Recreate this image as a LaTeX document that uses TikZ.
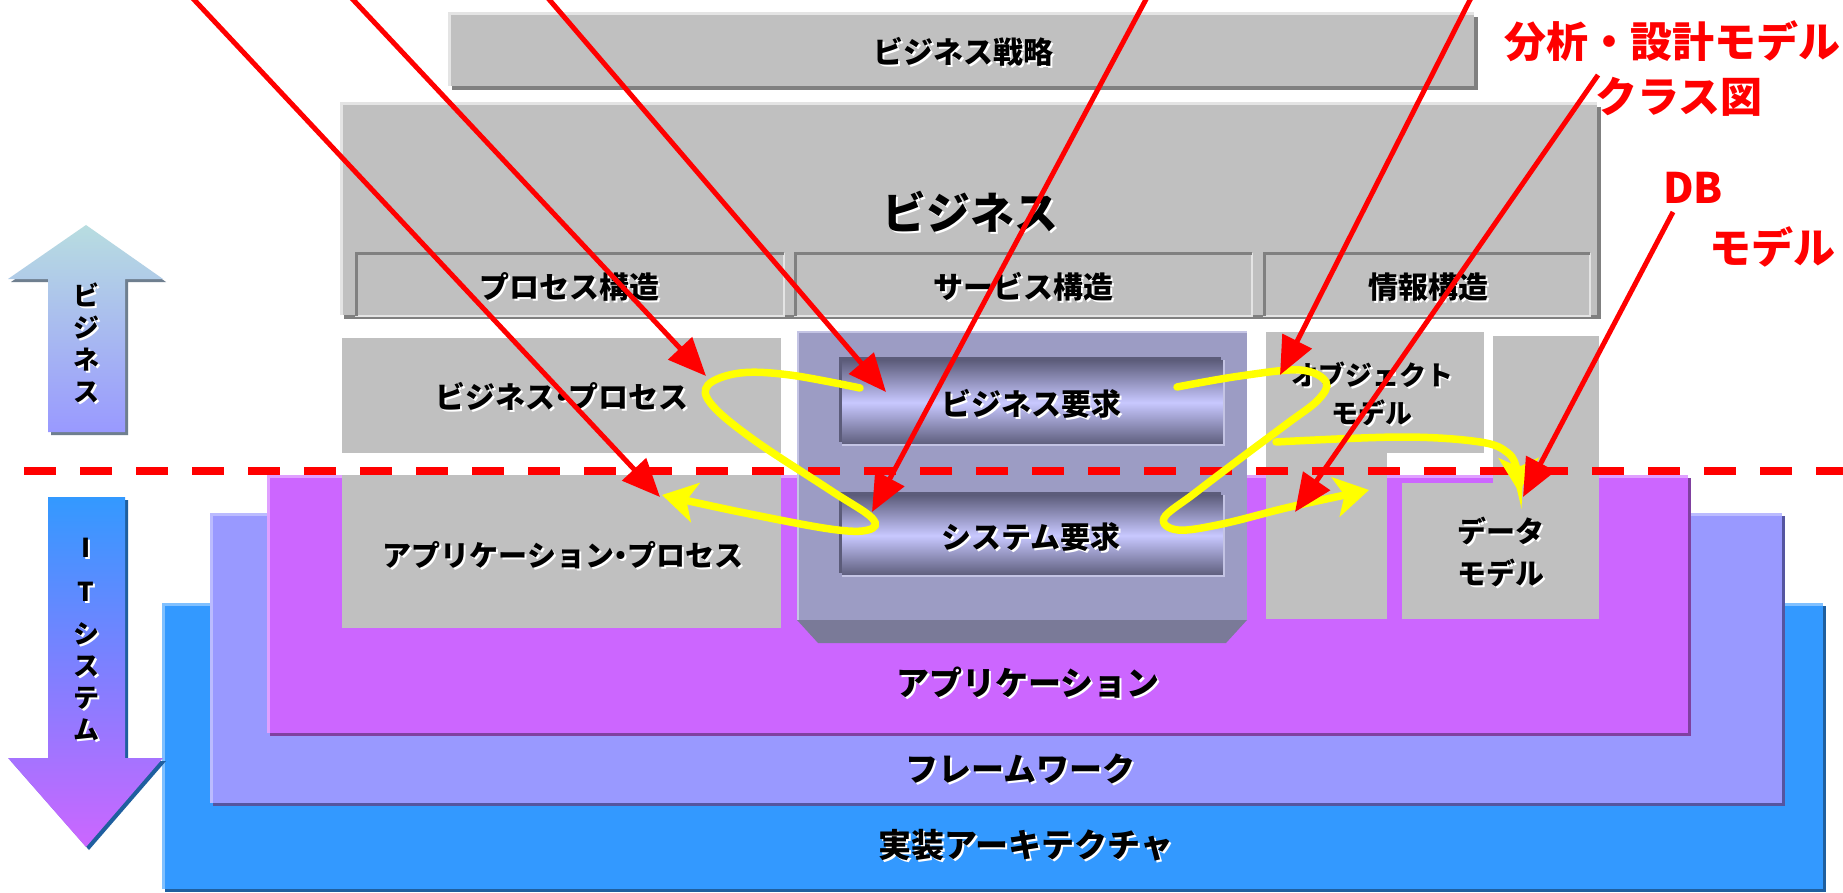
\documentclass[tikz,border=0pt]{standalone}
\usepackage{fontspec}
\setmainfont{Noto Sans CJK JP}
\usetikzlibrary{arrows.meta,shadows}
\definecolor{gbox}{HTML}{C0C0C0}
\definecolor{gdark}{HTML}{808080}
\definecolor{glight}{HTML}{E4E4E4}
\definecolor{impl}{HTML}{3399FF}
\definecolor{impllt}{HTML}{80C0FF}
\definecolor{implsh}{HTML}{1F5F9F}
\definecolor{frame}{HTML}{9999FF}
\definecolor{framelt}{HTML}{BBBBFF}
\definecolor{framesh}{HTML}{5555A0}
\definecolor{app}{HTML}{CC66FF}
\definecolor{applt}{HTML}{E0A0FF}
\definecolor{appsh}{HTML}{8040A0}
\definecolor{panel}{HTML}{9C9CC4}
\definecolor{panellt}{HTML}{C4C4E4}
\definecolor{paneldk}{HTML}{7A7A98}
\definecolor{cyldk}{HTML}{5C5C7A}
\definecolor{cyllt}{HTML}{C8C8FF}
\definecolor{arrred}{HTML}{FF0000}
\definecolor{arryel}{HTML}{FFFF00}
\definecolor{uptop}{HTML}{B8DDE0}
\definecolor{upbot}{HTML}{9999FF}
\definecolor{upsh}{HTML}{6F7F8F}
\newcommand\jfs[1]{\fontsize{#1}{#1}\selectfont}
\newcommand\sh[1]{\leavevmode\rlap{\kern2pt\raisebox{-2pt}{\color{white}#1}}#1}
\newcommand\nd{\kern-0.28em・\kern-0.28em}
\begin{document}
\begin{tikzpicture}[x=1pt,y=-1pt,
  lbl/.style={font=\bfseries\jfs{30}, inner sep=0pt, text=black},
  biglbl/.style={font=\bfseries\jfs{33}, inner sep=0pt, text=black},
  redlbl/.style={font=\bfseries\jfs{42}, inner sep=0pt, text=arrred},
  sidelbl/.style={font=\bfseries\jfs{26}, inner sep=0pt, align=center, text=black},
  shad/.style={drop shadow={shadow xshift=#1,shadow yshift=-#1,opacity=1,fill=gdark}},
  cyl/.style={top color=cyldk, bottom color=cyldk, middle color=cyllt},
  redarrow/.style={draw=arrred, line width=5pt, -{Triangle[length=38pt,width=32pt]}},
  yelarrow/.style={draw=arryel, line width=7.5pt, line cap=round, -{Stealth[length=34pt,width=40pt,inset=9pt]}}]
\useasboundingbox (0,0) rectangle (1843,893);
\fill[white] (0,0) rectangle (1843,893);

% implementation layer
\fill[impl, drop shadow={shadow xshift=3pt,shadow yshift=-3pt,opacity=1,fill=implsh}] (162,603) rectangle (1823,889);
\draw[impllt, line width=3pt] (163,889) |- (1823,604);
% framework layer
\fill[frame, drop shadow={shadow xshift=3pt,shadow yshift=-3pt,opacity=1,fill=framesh}] (210,513) rectangle (1782,803);
\draw[framelt, line width=3pt] (211,803) |- (1782,514);
% application layer
\fill[app, drop shadow={shadow xshift=3pt,shadow yshift=-3pt,opacity=1,fill=appsh}] (267,475) rectangle (1688,733);
\draw[applt, line width=3pt] (268,733) |- (1688,476);

% business strategy
\fill[gbox, shad=4pt] (448,13) rectangle (1474,86);
\draw[glight, line width=3pt] (449,86) |- (1474,14);
% business
\fill[gbox, shad=4pt] (340,103) rectangle (1597,315);
\draw[glight, line width=3pt] (341,315) |- (1597,104);
% sub boxes
\fill[gbox] (355,253) rectangle (784,316);
\draw[glight, line width=2pt] (355,316) -| (784,253);
\draw[gdark, line width=3pt] (356,316) |- (784,254);
\fill[gbox] (794,253) rectangle (1252,316);
\draw[glight, line width=2pt] (794,316) -| (1252,253);
\draw[gdark, line width=3pt] (795,316) |- (1252,254);
\fill[gbox] (1263,253) rectangle (1590,316);
\draw[glight, line width=2pt] (1263,316) -| (1590,253);
\draw[gdark, line width=3pt] (1264,316) |- (1590,254);

% gray boxes
\fill[gbox] (342,338) rectangle (781,453);
\fill[gbox] (342,475) rectangle (781,628);
\fill[gbox] (1266,332) rectangle (1484,453);
\fill[gbox] (1266,332) rectangle (1387,619);
\fill[gbox] (1493,336) rectangle (1599,619);
\fill[gbox] (1402,483) rectangle (1599,619);

% central panel
\fill[paneldk] (797,620) -- (1247,620) -- (1226,643) -- (818,643) -- cycle;
\fill[panel] (797,331) rectangle (1247,620);
\draw[panellt, line width=2pt] (798,620) |- (1247,332);
% cylinders
\fill[cyldk] (839,357) rectangle (1221,442);
\shade[cyl] (842,360) rectangle (1224,445);
\draw[panellt, line width=2pt] (842,445) -| (1224,360);
\fill[cyldk] (839,492) rectangle (1221,573);
\shade[cyl] (842,495) rectangle (1224,576);
\draw[panellt, line width=2pt] (842,576) -| (1224,495);

% texts
\node[lbl] (strat) at (963,53) {\sh{ビジネス戦略}};
\node[lbl, font=\bfseries\jfs{44}] (biz) at (970,213) {\sh{ビジネス}};
\node[lbl] (procs) at (569,288) {\sh{プロセス構造}};
\node[lbl] (servs) at (1023,288) {\sh{サービス構造}};
\node[lbl] (infos) at (1428,288) {\sh{情報構造}};
\node[lbl] (bproc) at (562,397) {\sh{ビジネス\nd プロセス}};
\node[lbl] (breq) at (1031,405) {\sh{ビジネス要求}};
\node[lbl] (sreq) at (1031,538) {\sh{システム要求}};
\node[lbl, font=\bfseries\jfs{29}] (aproc) at (563,556) {\sh{アプリケーション\nd プロセス}};
\node[lbl, font=\bfseries\jfs{27}, align=center] (objm) at (1372,395) {\sh{オブジェクト}\\[9pt]\sh{モデル}};
\node[lbl, font=\bfseries\jfs{29}, align=center] (datam) at (1501,553) {\sh{データ}\\[11pt]\sh{モデル}};
\node[biglbl] (appl) at (1028,684) {\sh{アプリケーション}};
\node[biglbl] (frm) at (1020,770) {\sh{フレームワーク}};
\node[biglbl] (impla) at (1026,846) {\sh{実装アーキテクチャ}};

% side arrows
\shade[top color=uptop, bottom color=upbot, drop shadow={shadow xshift=3pt,shadow yshift=-3pt,opacity=1,fill=upsh}]
  (86,225) -- (163,279) -- (125,279) -- (125,432) -- (48,432) -- (48,279) -- (8,279) -- cycle;
\node[sidelbl] (upl) at (86,344) {\sh{ビ}\\[6pt]\sh{ジ}\\[6pt]\sh{ネ}\\[6pt]\sh{ス}};
\shade[top color=impl, bottom color=app, drop shadow={shadow xshift=3pt,shadow yshift=-3pt,opacity=1,fill=implsh}]
  (48,497) -- (125,497) -- (125,758) -- (163,758) -- (86,847) -- (8,758) -- (48,758) -- cycle;
\node[sidelbl] (dnl) at (86,640) {\sh{I}\\[18pt]\sh{T}\\[16pt]\sh{シ}\\[6pt]\sh{ス}\\[6pt]\sh{テ}\\[6pt]\sh{ム}};

% dashed boundary
\coordinate (dashL) at (24,471);
\coordinate (dashR) at (1843,471);
\draw[arrred, line width=8pt, dash pattern=on 32pt off 24pt] (dashL) -- (dashR);

% yellow loops
\draw[yelarrow] plot[smooth, tension=0.6] coordinates {(860,388) (790,375) (740,373) (708,385) (712,405) (754,440) (830,490) (872,518) (868,530) (830,529) (740,512) (662,495)};
\draw[yelarrow] plot[smooth, tension=0.6] coordinates {(1177,387) (1240,376) (1300,370) (1326,382) (1318,400) (1288,423) (1245,455) (1195,493) (1164,518) (1178,530) (1222,524) (1290,507) (1369,490)};
\draw[yelarrow] plot[smooth, tension=0.6] coordinates {(1276,442) (1401,437) (1480,442) (1508,453) (1517,470) (1519,492)};

% red arrows
\coordinate (r1s) at (185,-10);   \coordinate (r1e) at (660,497);
\coordinate (r2s) at (344,-10);   \coordinate (r2e) at (706,376);
\coordinate (r3s) at (541,-10);   \coordinate (r3e) at (886,392);
\coordinate (r4s) at (1151,-10);  \coordinate (r4e) at (872,512);
\coordinate (r5s) at (1475,-10);  \coordinate (r5e) at (1280,375);
\coordinate (r6s) at (1598,75);   \coordinate (r6e) at (1295,512);
\coordinate (r7s) at (1673,212);  \coordinate (r7e) at (1523,497);
\draw[redarrow] (r1s) -- (r1e);
\draw[redarrow] (r2s) -- (r2e);
\draw[redarrow] (r3s) -- (r3e);
\draw[redarrow] (r4s) -- (r4e);
\draw[redarrow] (r5s) -- (r5e);
\draw[redarrow] (r6s) -- (r6e);
\draw[redarrow] (r7s) -- (r7e);

% red labels
\node[redlbl] (anl) at (1672,41) {分析・設計モデル};
\node[redlbl] (cls) at (1679,97) {クラス図};
\node[redlbl] (db) at (1693,188) {DB};
\node[redlbl] (dbm) at (1772,247) {モデル};
\end{tikzpicture}
\end{document}
